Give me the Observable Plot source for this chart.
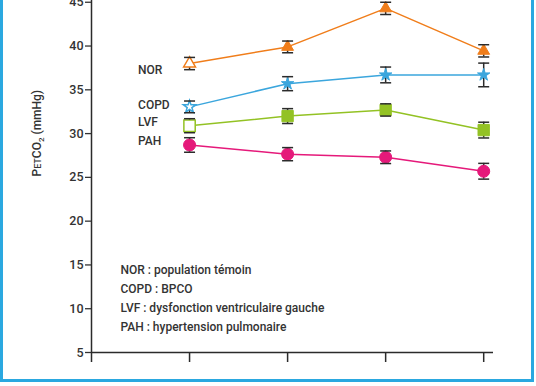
<!DOCTYPE html>
<html><head><meta charset="utf-8">
<script src="https://cdn.jsdelivr.net/npm/d3@7"></script>
<script src="https://cdn.jsdelivr.net/npm/@observablehq/plot@0.6"></script>
<style>
body{margin:0;background:#fff;}
#wrap{position:relative;width:536px;height:386px;background:#fff;overflow:hidden;font-family:Roboto,sans-serif;}
#wrap svg{position:absolute;left:0;top:0;}
#wrap svg text{font-weight:500;}
.bl{position:absolute;background:#2aa8e0;z-index:2;}
</style></head><body>
<div id="wrap"></div>
<script>
// ---- data ----
const stages = [1, 2, 3, 4];
const groups = ["NOR", "COPD", "LVF", "PAH"];
const norMean  = [38.0, 39.9, 44.3, 39.45];
const norErr   = [0.7, 0.67, 0.7, 0.7];
const copdMean = [33.05, 35.7, 36.7, 36.7];
const copdErr  = [0.67, 0.8, 0.9, 1.35];
const lvfMean  = [30.9, 32.0, 32.7, 30.4];
const lvfErr   = [0.8, 0.85, 0.7, 0.9];
const pahMean  = [28.7, 27.65, 27.3, 25.7];
const pahErr   = [0.83, 0.75, 0.72, 0.9];
const yTicks = [5, 10, 15, 20, 25, 30, 35, 40, 45];
const xTicks = [0, 1, 2, 3, 4];
const yLabel = "PETCO₂ (mmHg)";
const legendLines = [
  "NOR : population témoin",
  "COPD : BPCO",
  "LVF : dysfonction ventriculaire gauche",
  "PAH : hypertension pulmonaire"
];

// ---- styles ----
const styles = {
  NOR:  {mean: norMean,  err: norErr,  color: "#f07d1a", symbol: "triangle", r: 4.4, open: true,  dy: 7},
  COPD: {mean: copdMean, err: copdErr, color: "#3ba6dd", symbol: "star",     r: 3.9, open: true,  dy: -2},
  LVF:  {mean: lvfMean,  err: lvfErr,  color: "#93c224", symbol: "square",   r: 6.4, open: true,  dy: -3.5},
  PAH:  {mean: pahMean,  err: pahErr,  color: "#e5197a", symbol: "circle",   r: 6,   open: false, dy: -3.5}
};

const rows = groups.flatMap(g => stages.map((s, i) => ({group: g, stage: s, mean: styles[g].mean[i], err: styles[g].err[i]})));

const capSymbol = {draw(ctx, size) { const w = Math.sqrt(size / Math.PI); ctx.moveTo(-w, 0); ctx.lineTo(w, 0); }};
const ink = "#2b2b2b";

const marks = [
  Plot.ruleY([5], {stroke: ink, strokeWidth: 1.5}),
  Plot.ruleX([0], {stroke: ink, strokeWidth: 1.5}),
  Plot.axisY({ticks: yTicks, tickSize: 6, tickPadding: 2, fontSize: 12.5, color: "#333", strokeWidth: 1.3, label: null}),
  Plot.axisX({ticks: xTicks, tickSize: 10, tickFormat: () => "", color: ink, strokeWidth: 1.5, label: null})
];

for (const g of groups) {
  const s = styles[g];
  const d = rows.filter(r => r.group === g);
  marks.push(Plot.line(d, {x: "stage", y: "mean", stroke: s.color, strokeWidth: 1.5}));
}
marks.push(Plot.ruleX(rows, {x: "stage", y1: d => d.mean - d.err, y2: d => d.mean + d.err, stroke: ink, strokeWidth: 1.5}));
for (const g of groups) {
  const s = styles[g];
  const d = rows.filter(r => r.group === g);
  const openPts = s.open ? d.filter(r => r.stage === stages[0]) : [];
  const filledPts = s.open ? d.filter(r => r.stage !== stages[0]) : d;
  marks.push(Plot.dot(filledPts, {x: "stage", y: "mean", symbol: s.symbol, r: s.r, fill: s.color, stroke: s.color, strokeWidth: 1}));
  if (openPts.length) marks.push(Plot.dot(openPts, {x: "stage", y: "mean", symbol: s.symbol, r: s.r, fill: "white", stroke: s.color, strokeWidth: 1.5}));
  marks.push(Plot.text(d.filter(r => r.stage === stages[0]), {x: "stage", y: "mean", text: "group", textAnchor: "start", dx: -51.5, dy: s.dy, fontSize: 12, fill: "#333"}));
}
marks.push(Plot.dot(rows, {x: "stage", y: d => d.mean + d.err, symbol: capSymbol, r: 5.5, fill: "none", stroke: ink, strokeWidth: 1.5}));
marks.push(Plot.dot(rows, {x: "stage", y: d => d.mean - d.err, symbol: capSymbol, r: 5.5, fill: "none", stroke: ink, strokeWidth: 1.5}));
marks.push(Plot.text([legendLines.join("\n")], {frameAnchor: "left", textAnchor: "start", dx: 29, dy: 120, lineHeight: 1.6, fontSize: 12, fill: "#333"}));
marks.push(Plot.text([yLabel], {frameAnchor: "left", rotate: -90, dx: -54, fontSize: 12, fill: "#333"}));

const chart = Plot.plot({
  width: 536, height: 380,
  marginTop: 0, marginBottom: 28, marginLeft: 91, marginRight: 43,
  x: {domain: [0, 4.1], axis: null},
  y: {domain: [5, 45.2], axis: null},
  style: {fontFamily: "Roboto, sans-serif", background: "transparent", overflow: "visible"},
  marks
});

const wrap = document.getElementById("wrap");
wrap.appendChild(chart);
// y label with small caps and subscript
chart.querySelectorAll("text").forEach(t => {
  if (t.textContent === yLabel) {
    t.innerHTML = 'P<tspan font-size="9">ET</tspan>CO<tspan font-size="8" dy="3">2</tspan><tspan dy="-3"> (mmHg)</tspan>';
  }
});
for (const [l, t, w, h] of [[0, 0, 3, 382], [531, 0, 3, 382], [0, 379, 534, 3]]) {
  const b = document.createElement("div");
  b.className = "bl";
  b.style.cssText = `left:${l}px;top:${t}px;width:${w}px;height:${h}px`;
  wrap.appendChild(b);
}
</script>
</body></html>
